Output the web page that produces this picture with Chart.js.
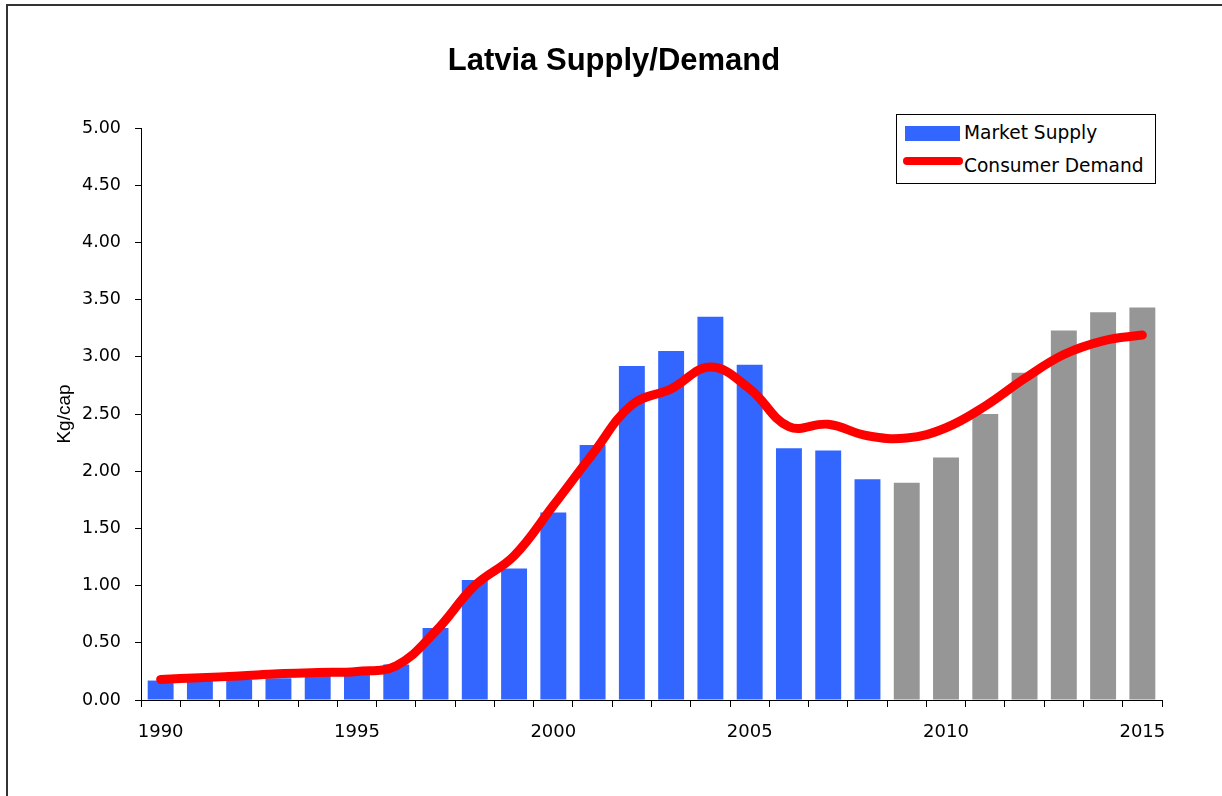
<!DOCTYPE html>
<html>
<head>
<meta charset="utf-8">
<script src="https://cdn.jsdelivr.net/npm/chart.js@4/dist/chart.umd.min.js"></script>
<style>
  html, body { margin: 0; padding: 0; background: #fff; overflow: hidden; }
  .frame { position: absolute; left: 6px; top: 4px; width: 1300px; height: 900px;
    border-left: 2px solid #333; border-top: 2px solid #333; }
  .title { position: absolute; left: 0; width: 1228px; top: 42px; text-align: center;
    font: bold 31px 'Liberation Sans', Arial, sans-serif; line-height: 36px; color: #000; }
  .legend { position: absolute; left: 896px; top: 114px; width: 258px; height: 68px;
    border: 1px solid #000; background: #fff; font: 18.6px 'DejaVu Sans', sans-serif; color: #000; }
  .legend .row { position: absolute; left: 0; height: 22px; line-height: 22px; white-space: nowrap; }
  .legend .sw { position: absolute; left: 8px; }
  .legend .txt { position: absolute; left: 67px; }
  canvas { position: absolute; left: 0; top: 0; }
</style>
</head>
<body>
<div class="frame"></div>
<canvas id="chart" width="1222" height="796"></canvas>
<div class="title">Latvia Supply/Demand</div>
<div class="legend">
  <div class="row" style="top:7px"><span class="sw" style="top:4px;width:55px;height:15px;background:#3366ff"></span><span class="txt">Market Supply</span></div>
  <div class="row" style="top:40px"><span class="sw" style="left:6px;top:2px;width:60px;height:8px;border-radius:4px;background:#ff0000"></span><span class="txt">Consumer Demand</span></div>
</div>
<script>
(() => {
  const years = [1990, 1991, 1992, 1993, 1994, 1995, 1996, 1997, 1998, 1999, 2000, 2001, 2002,
    2003, 2004, 2005, 2006, 2007, 2008, 2009, 2010, 2011, 2012, 2013, 2014, 2015];
  const marketSupply = [0.17, 0.17, 0.18, 0.19, 0.21, 0.22, 0.31, 0.63, 1.05, 1.15, 1.64, 2.23, 2.92,
    3.05, 3.35, 2.93, 2.20, 2.18, 1.93, 1.90, 2.12, 2.50, 2.86, 3.23, 3.39, 3.43];
  const consumerDemand = [0.18, 0.195, 0.21, 0.23, 0.24, 0.25, 0.30, 0.60, 1.00, 1.26, 1.70, 2.15, 2.58,
    2.72, 2.91, 2.72, 2.39, 2.41, 2.31, 2.29, 2.38, 2.57, 2.81, 3.02, 3.14, 3.19];
  const firstForecastYear = 2009;
  const yTicks = { min: 0, max: 5, step: 0.5 };

  const barColors = years.map(y => (y >= firstForecastYear ? '#969696' : '#3366ff'));

  Chart.defaults.font.family = "'DejaVu Sans', sans-serif";
  Chart.defaults.font.size = 17;
  Chart.defaults.color = '#000';

  new Chart(document.getElementById('chart'), {
    data: {
      labels: years,
      datasets: [
        {
          type: 'line',
          label: 'Consumer Demand',
          data: consumerDemand,
          borderColor: '#ff0000',
          borderWidth: 9,
          borderCapStyle: 'round',
          borderJoinStyle: 'round',
          tension: 0.4,
          pointRadius: 0,
          fill: false,
          order: 1,
        },
        {
          type: 'bar',
          label: 'Market Supply',
          data: marketSupply,
          backgroundColor: barColors,
          barPercentage: 0.66,
          categoryPercentage: 1,
          order: 2,
        },
      ],
    },
    options: {
      responsive: false,
      animation: false,
      devicePixelRatio: 1,
      layout: { padding: { left: 50, right: 60, top: 128, bottom: 0 } },
      plugins: {
        legend: { display: false },
        title: { display: false },
        tooltip: { enabled: false },
      },
      scales: {
        x: {
          type: 'category',
          offset: true,
          afterFit: (scale) => { scale.height = 96; },
          grid: { display: true, drawOnChartArea: false, drawTicks: true, tickLength: 7, offset: true, color: '#000' },
          border: { display: true, color: '#000', width: 1 },
          ticks: {
            autoSkip: false,
            maxRotation: 0,
            padding: 15,
            font: { size: 18 },
            callback: (value, index) => (years[index] % 5 === 0 ? String(years[index]) : ''),
          },
        },
        y: {
          min: yTicks.min,
          max: yTicks.max,
          afterFit: (scale) => { scale.width = 91; },
          grid: { display: true, drawOnChartArea: false, drawTicks: true, tickLength: 6, color: '#000' },
          border: { display: true, color: '#000', width: 1 },
          ticks: {
            stepSize: yTicks.step,
            padding: 14,
            font: { size: 17.5 },
            callback: (value) => Number(value).toFixed(2),
          },
          title: {
            display: true,
            text: 'Kg/cap',
            font: { family: "'Liberation Sans', Arial, sans-serif", size: 19 },
            padding: { top: 3, bottom: 4 },
          },
        },
      },
    },
  });
})();
</script>
</body>
</html>
